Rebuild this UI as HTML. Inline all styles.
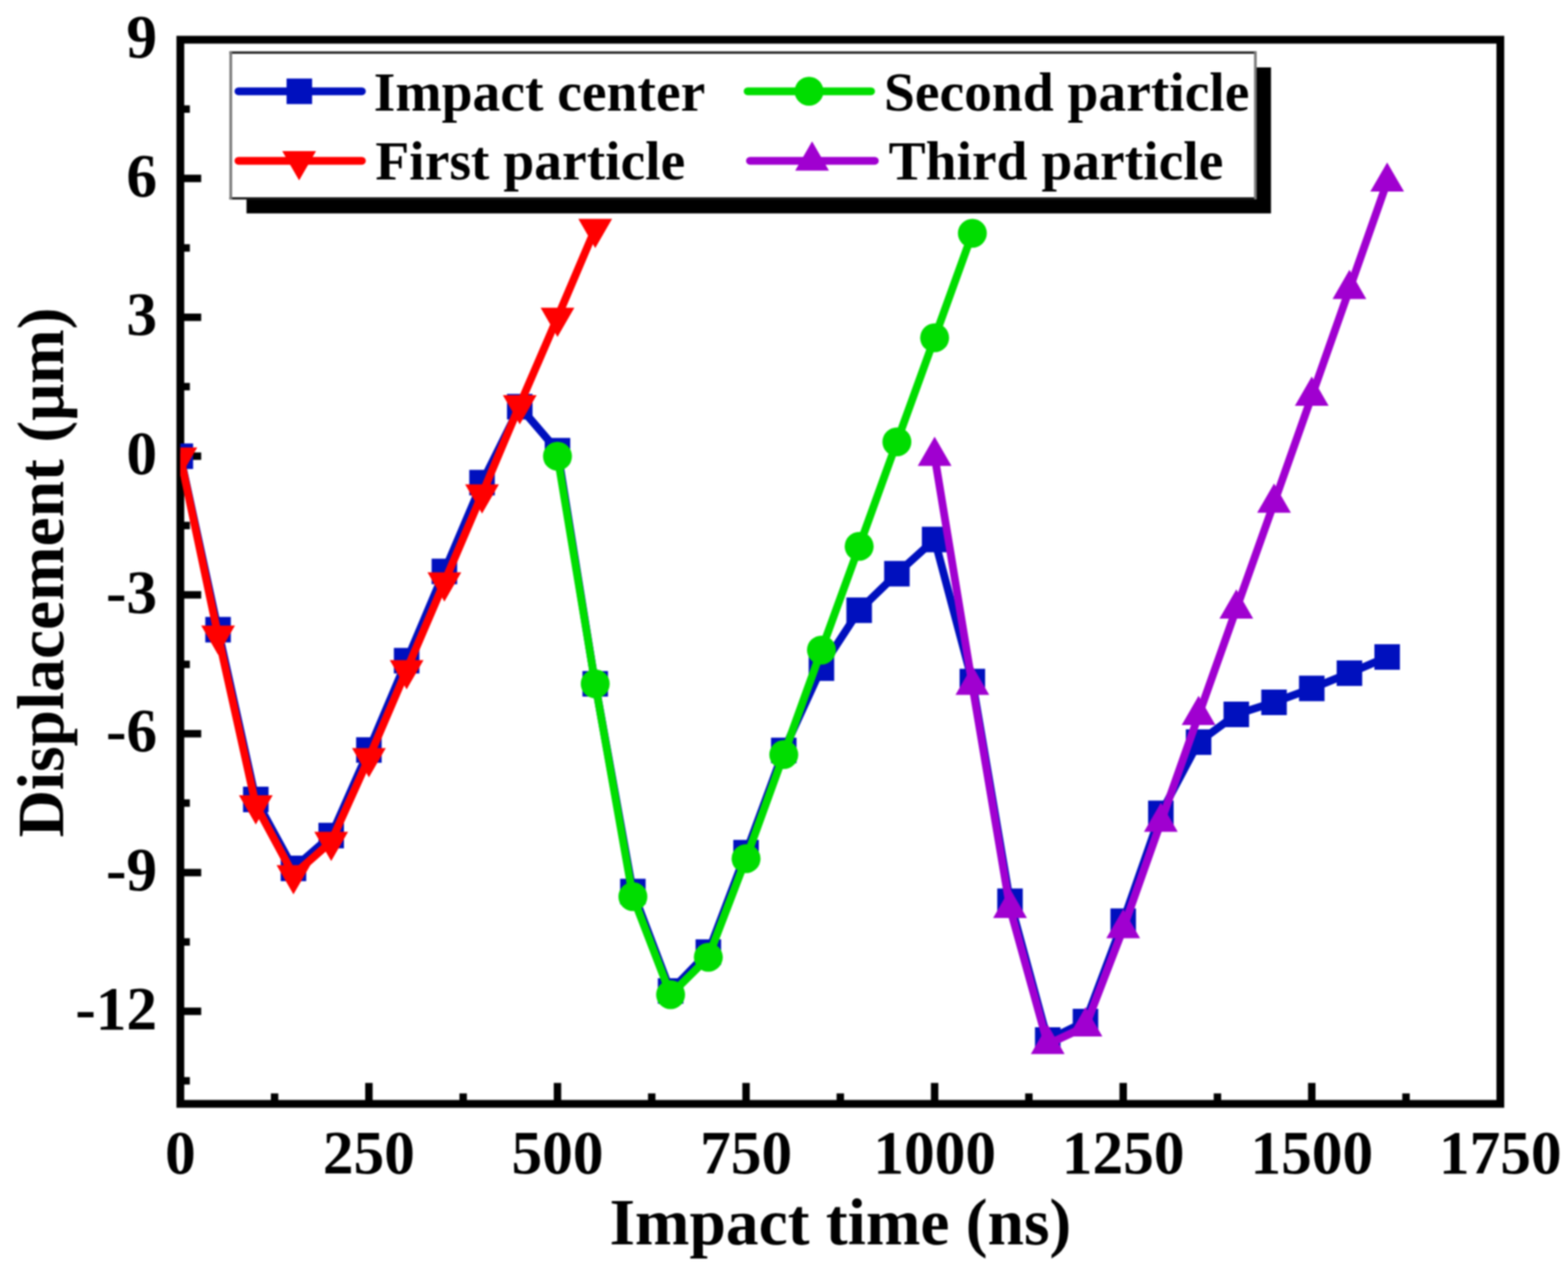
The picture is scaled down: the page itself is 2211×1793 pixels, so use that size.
<!DOCTYPE html>
<html lang="en">
<head>
<meta charset="utf-8">
<title>Displacement vs impact time</title>
<style>
html,body{margin:0;padding:0;background:#fff}
body{width:2211px;height:1793px;overflow:hidden}
svg{display:block;filter:blur(1px)}
text{font-family:"Liberation Serif","DejaVu Serif",serif;font-weight:bold;fill:#000}
.tick{font-size:86.5px}
.title{font-size:92.3px}
.leg{font-size:78.3px}
</style>
</head>
<body>
<svg width="2211" height="1793" viewBox="0 0 2211 1793">
<defs><clipPath id="plot"><rect x="254.3" y="56" width="1861.3" height="1500"/></clipPath></defs>
<rect x="0" y="0" width="2211" height="1793" fill="#fff"/>
<g id="axes" stroke="#000" fill="none">
<rect x="254.3" y="56" width="1861.3" height="1500" stroke-width="11"/>
<path d="M254.3 251.6H283.7M254.3 447.3H283.7M254.3 642.9H283.7M254.3 838.6H283.7M254.3 1034.2H283.7M254.3 1229.9H283.7M254.3 1425.6H283.7M254.3 153.8H267.7M254.3 349.4H267.7M254.3 545.1H267.7M254.3 740.8H267.7M254.3 936.4H267.7M254.3 1132.1H267.7M254.3 1327.7H267.7M254.3 1523.4H267.7M520.2 1556V1526.4M786.1 1556V1526.4M1052 1556V1526.4M1317.9 1556V1526.4M1583.8 1556V1526.4M1849.7 1556V1526.4M387.2 1556V1541.3M653.1 1556V1541.3M919 1556V1541.3M1184.9 1556V1541.3M1450.8 1556V1541.3M1716.7 1556V1541.3M1982.6 1556V1541.3" stroke-width="10.5"/>
</g>
<g id="data" clip-path="url(#plot)">
<g id="blue" fill="#0010be">
<polyline points="254.3,643.1 307.5,887.6 360.7,1126.9 413.8,1224.1 467,1177.8 520.2,1057.2 573.4,931.3 626.6,805.5 679.7,680.3 732.9,573.3 786.1,635.3 839.3,963.9 892.4,1256.7 945.6,1396.9 998.8,1342.1 1052,1201.9 1105.2,1057.8 1158.3,941.8 1211.5,860.2 1264.7,808.7 1317.9,760.5 1371.1,960.7 1424.2,1270.4 1477.4,1466 1530.6,1440 1583.8,1298.5 1636.9,1146.5 1690.1,1046.1 1743.3,1007 1796.5,990 1849.7,970.4 1902.8,948.9 1956,926.1" fill="none" stroke="#0010be" stroke-width="11" stroke-linejoin="round" stroke-linecap="round"/>
<rect x="236.3" y="625.1" width="36" height="36"/>
<rect x="289.5" y="869.6" width="36" height="36"/>
<rect x="342.7" y="1108.9" width="36" height="36"/>
<rect x="395.8" y="1206.1" width="36" height="36"/>
<rect x="449" y="1159.8" width="36" height="36"/>
<rect x="502.2" y="1039.2" width="36" height="36"/>
<rect x="555.4" y="913.3" width="36" height="36"/>
<rect x="608.6" y="787.5" width="36" height="36"/>
<rect x="661.7" y="662.3" width="36" height="36"/>
<rect x="714.9" y="555.3" width="36" height="36"/>
<rect x="768.1" y="617.3" width="36" height="36"/>
<rect x="821.3" y="945.9" width="36" height="36"/>
<rect x="874.4" y="1238.7" width="36" height="36"/>
<rect x="927.6" y="1378.9" width="36" height="36"/>
<rect x="980.8" y="1324.1" width="36" height="36"/>
<rect x="1034" y="1183.9" width="36" height="36"/>
<rect x="1087.2" y="1039.8" width="36" height="36"/>
<rect x="1140.3" y="923.8" width="36" height="36"/>
<rect x="1193.5" y="842.2" width="36" height="36"/>
<rect x="1246.7" y="790.7" width="36" height="36"/>
<rect x="1299.9" y="742.5" width="36" height="36"/>
<rect x="1353.1" y="942.7" width="36" height="36"/>
<rect x="1406.2" y="1252.4" width="36" height="36"/>
<rect x="1459.4" y="1448" width="36" height="36"/>
<rect x="1512.6" y="1422" width="36" height="36"/>
<rect x="1565.8" y="1280.5" width="36" height="36"/>
<rect x="1618.9" y="1128.5" width="36" height="36"/>
<rect x="1672.1" y="1028.1" width="36" height="36"/>
<rect x="1725.3" y="989" width="36" height="36"/>
<rect x="1778.5" y="972" width="36" height="36"/>
<rect x="1831.7" y="952.4" width="36" height="36"/>
<rect x="1884.8" y="930.9" width="36" height="36"/>
<rect x="1938" y="908.1" width="36" height="36"/>
</g>
<g id="red" fill="#ff0000">
<polyline points="254.3,644.4 307.5,895.5 360.7,1134.8 413.8,1233.2 467,1186.3 520.2,1068.3 573.4,944.4 626.6,820.5 679.7,696.6 732.9,570.7 786.1,447.5 839.3,322.3" fill="none" stroke="#ff0000" stroke-width="11" stroke-linejoin="round" stroke-linecap="round"/>
<polygon points="230.5,630.7 278.1,630.7 254.3,671.9"/>
<polygon points="283.7,881.7 331.3,881.7 307.5,922.9"/>
<polygon points="336.9,1121 384.5,1121 360.7,1162.3"/>
<polygon points="390,1219.5 437.6,1219.5 413.8,1260.7"/>
<polygon points="443.2,1172.5 490.8,1172.5 467,1213.8"/>
<polygon points="496.4,1054.5 544,1054.5 520.2,1095.7"/>
<polygon points="549.6,930.6 597.2,930.6 573.4,971.8"/>
<polygon points="602.8,806.7 650.4,806.7 626.6,847.9"/>
<polygon points="655.9,682.8 703.5,682.8 679.7,724"/>
<polygon points="709.1,557 756.7,557 732.9,598.2"/>
<polygon points="762.3,433.7 809.9,433.7 786.1,474.9"/>
<polygon points="815.5,308.5 863.1,308.5 839.3,349.7"/>
</g>
<g id="green" fill="#00dd00">
<polyline points="786.1,643.1 839.3,963.9 892.4,1263.9 945.6,1402.1 998.8,1349.3 1052,1210.4 1105.2,1063.7 1158.3,916.3 1211.5,770.2 1264.7,622.9 1317.9,476.2 1371.1,328.8" fill="none" stroke="#00dd00" stroke-width="11" stroke-linejoin="round" stroke-linecap="round"/>
<circle cx="786.1" cy="643.1" r="20.4"/>
<circle cx="839.3" cy="963.9" r="20.4"/>
<circle cx="892.4" cy="1263.9" r="20.4"/>
<circle cx="945.6" cy="1402.1" r="20.4"/>
<circle cx="998.8" cy="1349.3" r="20.4"/>
<circle cx="1052" cy="1210.4" r="20.4"/>
<circle cx="1105.2" cy="1063.7" r="20.4"/>
<circle cx="1158.3" cy="916.3" r="20.4"/>
<circle cx="1211.5" cy="770.2" r="20.4"/>
<circle cx="1264.7" cy="622.9" r="20.4"/>
<circle cx="1317.9" cy="476.2" r="20.4"/>
<circle cx="1371.1" cy="328.8" r="20.4"/>
</g>
<g id="purple" fill="#a000d0">
<polyline points="1317.9,643.1 1371.1,965.9 1424.2,1280.2 1477.4,1471.9 1530.6,1447.1 1583.8,1308.9 1636.9,1158.9 1690.1,1008.3 1743.3,858.3 1796.5,709 1849.7,558.3 1902.8,407.7 1956,256.4" fill="none" stroke="#a000d0" stroke-width="11" stroke-linejoin="round" stroke-linecap="round"/>
<polygon points="1294.1,656.8 1341.7,656.8 1317.9,615.6"/>
<polygon points="1347.3,979.6 1394.9,979.6 1371.1,938.4"/>
<polygon points="1400.4,1293.9 1448,1293.9 1424.2,1252.7"/>
<polygon points="1453.6,1485.7 1501.2,1485.7 1477.4,1444.4"/>
<polygon points="1506.8,1460.9 1554.4,1460.9 1530.6,1419.6"/>
<polygon points="1560,1322.6 1607.6,1322.6 1583.8,1281.4"/>
<polygon points="1613.1,1172.6 1660.7,1172.6 1636.9,1131.4"/>
<polygon points="1666.3,1022 1713.9,1022 1690.1,980.8"/>
<polygon points="1719.5,872 1767.1,872 1743.3,830.8"/>
<polygon points="1772.7,722.7 1820.3,722.7 1796.5,681.5"/>
<polygon points="1825.9,572.1 1873.5,572.1 1849.7,530.8"/>
<polygon points="1879,421.4 1926.6,421.4 1902.8,380.2"/>
<polygon points="1932.2,270.1 1979.8,270.1 1956,228.9"/>
</g>
</g>
<g id="ylabels" class="tick" text-anchor="end">
<text x="221.6" y="81.1">9</text>
<text x="221.6" y="276.7">6</text>
<text x="221.6" y="472.4">3</text>
<text x="221.6" y="668">0</text>
<text x="221.6" y="863.7">-3</text>
<text x="221.6" y="1059.3">-6</text>
<text x="221.6" y="1255">-9</text>
<text x="221.6" y="1450.7">-12</text>
</g>
<g id="xlabels" class="tick" text-anchor="middle">
<text x="254.3" y="1653.6">0</text>
<text x="520.2" y="1653.6">250</text>
<text x="786.1" y="1653.6">500</text>
<text x="1052" y="1653.6">750</text>
<text x="1317.9" y="1653.6">1000</text>
<text x="1583.8" y="1653.6">1250</text>
<text x="1849.7" y="1653.6">1500</text>
<text x="2115.6" y="1653.6">1750</text>
</g>
<text class="title" text-anchor="middle" x="1185" y="1753.7">Impact time (ns)</text>
<text class="title" text-anchor="middle" transform="translate(89 806.9) rotate(-90)">Displacement (μm)</text>
<g id="legend">
<rect x="347.6" y="95" width="1444.6" height="205.8" fill="#000"/>
<rect x="323.6" y="72.6" width="1448.2" height="208.4" fill="#fff"/>
<path d="M323.6 74.1H1771.8M323.6 279.6H1771.8" stroke="#1c1c1c" stroke-width="3.1" fill="none"/>
<path d="M325.4 72.6V281M1770.2 72.6V281" stroke="#7a7a7a" stroke-width="3.8" fill="none"/>
<g fill="#0010be">
<path d="M336.2 128.7H510.3" stroke="#0010be" stroke-width="11" stroke-linecap="round" fill="none"/>
<rect x="404.1" y="110.7" width="36" height="36"/>
</g>
<text class="leg" x="527" y="155.8">Impact center</text>
<g fill="#ff0000">
<path d="M336.2 226.7H510.3" stroke="#ff0000" stroke-width="11" stroke-linecap="round" fill="none"/>
<polygon points="398,213 445.6,213 421.8,254.2"/>
</g>
<text class="leg" x="529.3" y="253.1">First particle</text>
<g fill="#00dd00">
<path d="M1054.2 128.7H1228.3" stroke="#00dd00" stroke-width="11" stroke-linecap="round" fill="none"/>
<circle cx="1140.8" cy="128.7" r="20.4"/>
</g>
<text class="leg" x="1246.4" y="155.8">Second particle</text>
<g fill="#a000d0">
<path d="M1057.5 226.7H1233.6" stroke="#a000d0" stroke-width="11" stroke-linecap="round" fill="none"/>
<polygon points="1121.3,240.4 1168.9,240.4 1145.1,199.2"/>
</g>
<text class="leg" x="1253" y="253.1">Third particle</text>
</g>
</svg>
</body>
</html>
